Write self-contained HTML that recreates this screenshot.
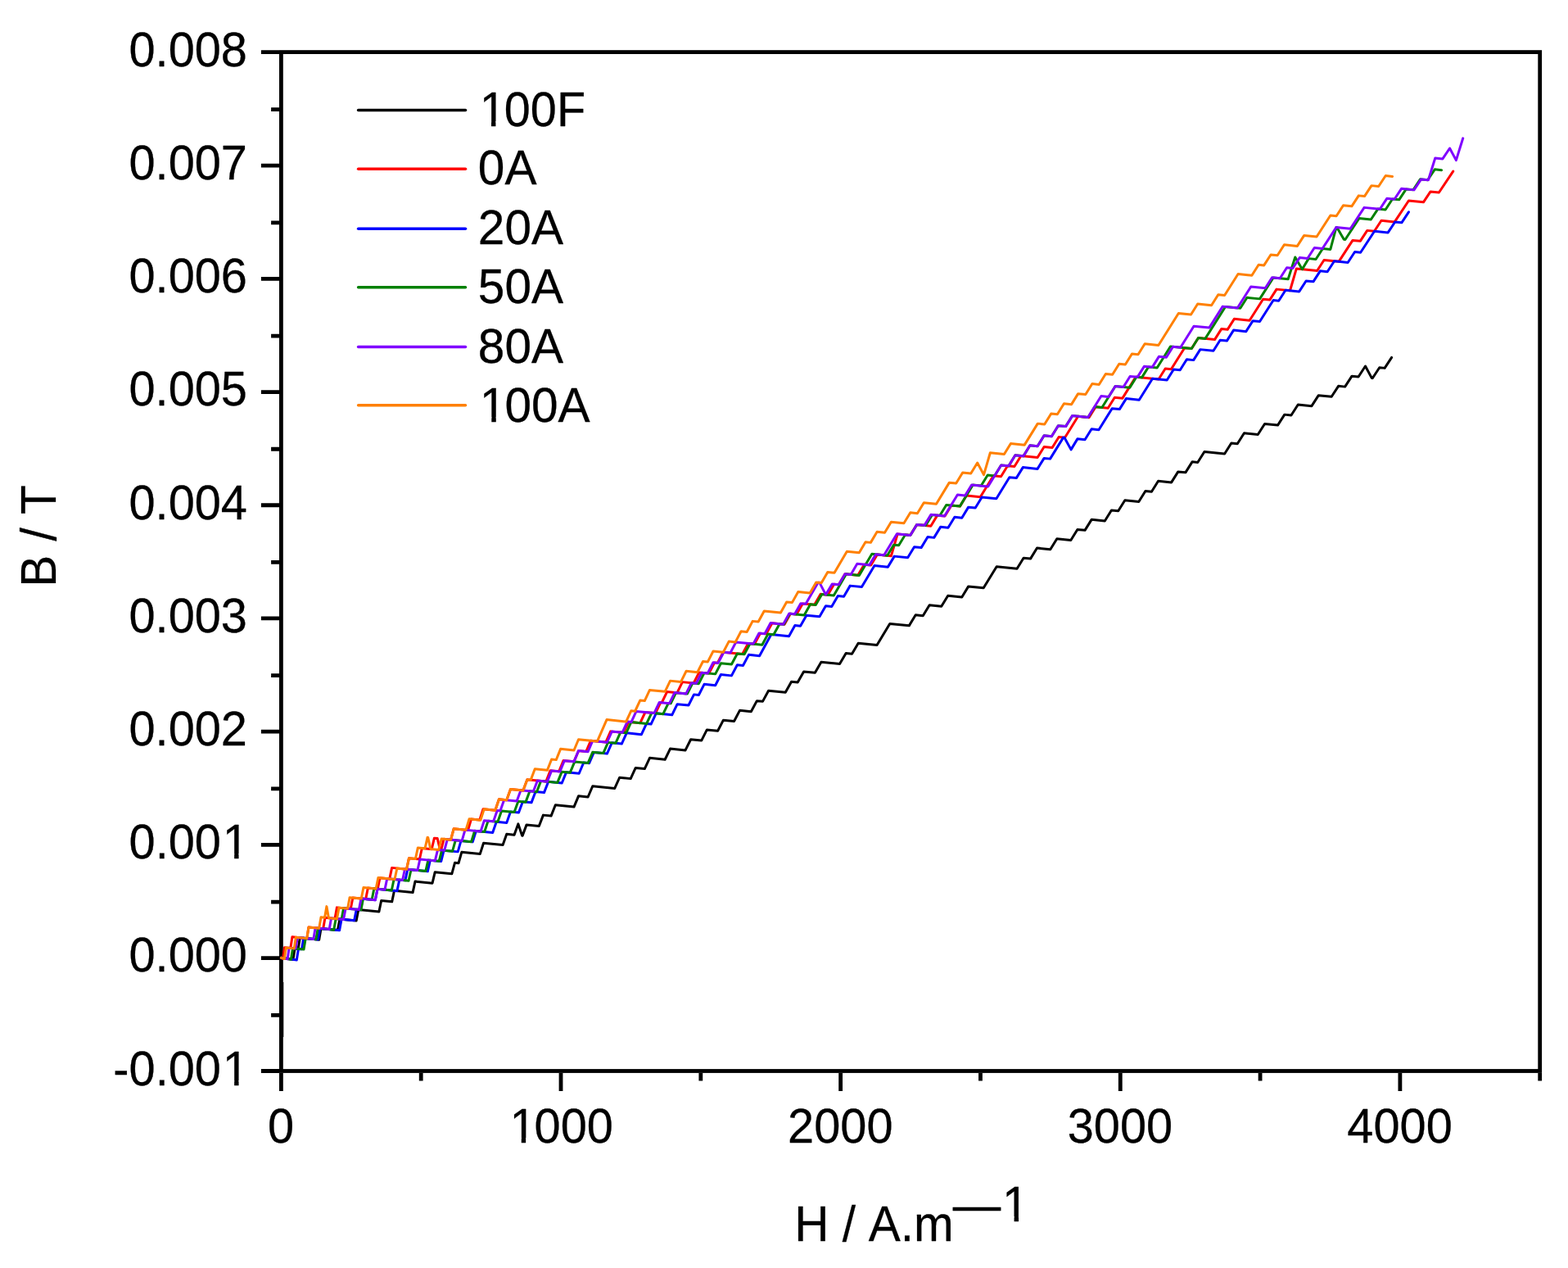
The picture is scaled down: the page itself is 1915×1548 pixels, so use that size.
<!DOCTYPE html>
<html lang="en"><head><meta charset="utf-8"><title>B / T vs H / A.m&#8212;1</title>
<style>html,body{margin:0;padding:0;background:#fff}body{width:1915px;height:1548px;overflow:hidden}svg{display:block}text{font-family:"Liberation Sans", sans-serif;fill:#000;stroke:#000;stroke-width:0.3px;stroke-linejoin:round;font-kerning:none}</style>
</head><body>
<svg width="1915" height="1548" viewBox="0 0 1915 1548">
<rect x="0" y="0" width="1915" height="1548" fill="#ffffff"/>
<g stroke="#000" stroke-width="4.8" fill="none" stroke-linecap="butt">
<rect x="343.4" y="63.6" width="1537.3" height="1243.9"/>
<path d="M318.9 63.6 H341 M331.1 133.61 H341 M318.9 202.11 H341 M331.1 271.82 H341 M318.9 340.32 H341 M331.1 410.03 H341 M318.9 478.53 H341 M331.1 548.24 H341 M318.9 616.74 H341 M331.1 686.45 H341 M318.9 754.96 H341 M331.1 824.66 H341 M318.9 893.17 H341 M331.1 962.87 H341 M318.9 1031.38 H341 M331.1 1101.08 H341 M318.9 1169.59 H341 M331.1 1239.29 H341 M318.9 1307.5 H341 M343.4 1309.9 V1332 M514.21 1309.9 V1319.4 M685.02 1309.9 V1332 M855.83 1309.9 V1319.4 M1026.64 1309.9 V1332 M1197.46 1309.9 V1319.4 M1368.27 1309.9 V1332 M1539.08 1309.9 V1319.4 M1709.89 1309.9 V1332 M1880.7 1309.9 V1319.4"/>
</g>
<g fill="none" stroke-width="3" stroke-linejoin="round" stroke-linecap="round">
<path d="M344.6 1199 L344.6 1266" stroke="#000" stroke-width="3.4" stroke-linecap="butt"/>
<path d="M343.4 1169.3 L357.95 1171.57 L360.07 1157.96 L364.18 1158.38 L366.33 1144.78 L389.7 1147.14 L392.02 1133.55 L412.43 1135.61 L414.9 1122.04 L435.15 1124.09 L437.77 1110.53 L462.89 1113.07 L465.66 1099.53 L478.7 1100.85 L481.54 1087.31 L504.07 1089.59 L507.02 1076.07 L528.04 1078.19 L531.25 1064.69 L551.81 1066.77 L555.48 1053.32 L560.01 1053.78 L563.83 1040.34 L586.25 1042.61 L590.57 1029.22 L614.11 1031.6 L618.8 1018.26 L628.07 1019.19 L632.9 1005.86 L637.6 1020.15 L638.15 1020.21 L643.08 1006.89 L658.31 1008.43 L663.45 995.12 L673.05 996.09 L678.33 982.81 L700.98 985.1 L706.53 971.84 L718.09 973 L723.76 959.76 L750.74 962.48 L756.66 949.26 L770.18 950.62 L776.24 937.42 L787.29 938.53 L793.47 925.34 L812.17 927.23 L818.54 914.05 L837.05 915.92 L843.6 902.76 L856.69 904.08 L863.37 890.94 L876.62 892.28 L883.42 879.14 L896.55 880.47 L903.47 867.35 L917.31 868.75 L924.36 855.64 L931.43 856.35 L938.56 843.25 L959.25 845.34 L966.55 832.26 L974.2 833.03 L981.59 819.96 L995.39 821.35 L1002.9 808.29 L1025.53 810.57 L1033.16 797.53 L1040.51 798.27 L1048.2 785.22 L1071.04 787.53 L1086.74 761.48 L1110.31 763.86 L1118.22 750.84 L1127.22 751.75 L1135.14 738.73 L1149.76 740.2 L1157.7 727.18 L1174.75 728.91 L1182.72 715.89 L1201.2 717.76 L1217.18 691.73 L1242.07 694.25 L1250.08 681.23 L1258.5 682.09 L1266.53 669.08 L1282.77 670.72 L1290.81 657.71 L1307.81 659.43 L1315.87 646.42 L1325.03 647.34 L1333.11 634.34 L1349.3 635.98 L1357.39 622.97 L1365.73 623.82 L1373.84 610.81 L1390.78 612.53 L1398.9 599.53 L1406.43 600.29 L1414.57 587.29 L1430.64 588.91 L1438.8 575.92 L1447.86 576.83 L1456.03 563.84 L1462.74 564.51 L1470.91 551.52 L1495.61 554.01 L1503.81 541.02 L1511.25 541.77 L1519.48 528.78 L1536.27 530.48 L1544.54 517.5 L1560.51 519.11 L1568.83 506.13 L1576.93 506.95 L1585.27 493.97 L1601.96 495.65 L1610.34 482.68 L1626.2 484.28 L1634.62 471.31 L1642.62 472.12 L1651.07 459.15 L1659.04 459.96 L1667.52 447 L1675.35 461.61 L1676.24 461.7 L1684.75 448.74 L1691.1 449.38 L1699.63 436.42" stroke="#000000"/>
<path d="M343.4 1169.3 L345.5 1170.31 L347.53 1156.7 L354.84 1157.44 L356.93 1143.83 L374.76 1145.63 L376.98 1132.03 L394.68 1133.82 L397.04 1120.24 L409 1121.45 L411.45 1107.87 L428.3 1109.57 L430.87 1096.01 L446.67 1097.61 L449.37 1084.06 L461.23 1085.26 L463.99 1071.72 L475.79 1072.91 L478.61 1059.38 L496.59 1061.19 L499.5 1047.67 L512.39 1048.97 L515.37 1035.45 L527.22 1036.65 L530.41 1023.15 L534.19 1023.53 L537.51 1037.69 L538.7 1037.8 L542.11 1024.33 L550.58 1025.19 L554.22 1011.73 L571.49 1013.48 L575.53 1000.07 L585.74 1001.1 L590.05 987.71 L604.81 989.2 L609.4 975.85 L618.76 976.79 L623.5 963.45 L638.93 965.01 L643.86 951.69 L666.84 954.01 L672.06 940.71 L682.66 941.79 L688.04 928.51 L700.98 929.82 L706.53 916.56 L715.75 917.49 L721.41 904.24 L739.86 906.1 L745.69 892.87 L761.63 894.48 L767.62 881.27 L781.84 882.7 L787.99 869.5 L800.51 870.77 L806.79 857.58 L808.28 857.73 L814.62 844.55 L826.94 845.8 L833.42 832.63 L847.16 834.02 L853.79 820.87 L865.85 822.09 L872.58 808.95 L876.33 809.33 L883.13 796.19 L906.7 798.57 L913.68 785.46 L921.49 786.25 L928.56 773.14 L935.82 773.87 L942.98 760.78 L958.09 762.3 L965.38 749.22 L972.88 749.98 L980.26 736.9 L994.68 738.36 L1002.19 725.3 L1011.07 726.19 L1018.64 713.14 L1024.33 713.71 L1031.96 700.66 L1047.74 702.26 L1055.46 689.22 L1063.65 690.05 L1071.44 677.01 L1088.36 678.72 L1096.19 651.87 L1111.77 653.45 L1119.69 640.42 L1136.82 642.16 L1144.75 629.14 L1154.04 630.07 L1161.98 617.06 L1172.41 618.11 L1180.37 605.09 L1197.29 606.8 L1213.26 580.78 L1222.5 581.71 L1230.5 568.7 L1238.93 569.55 L1246.95 556.54 L1267.11 558.57 L1275.14 545.57 L1285.11 546.57 L1293.16 533.57 L1300.53 534.31 L1316.66 508.3 L1330.04 509.65 L1338.12 496.65 L1353.21 498.17 L1361.31 485.17 L1370.92 486.14 L1387.15 460.14 L1415.04 462.96 L1423.19 449.96 L1430.36 450.68 L1446.68 424.69 L1455.33 425.56 L1463.5 412.57 L1483.5 414.59 L1491.7 401.6 L1499.15 402.35 L1507.36 389.36 L1526.07 391.25 L1542.61 365.28 L1550.76 366.1 L1559.06 353.12 L1575.51 354.78 L1583.34 327.93 L1608.63 330.49 L1617.02 317.52 L1635.1 319.34 L1652.01 293.41 L1661.28 294.35 L1669.77 281.38 L1678.49 282.26 L1687 269.3 L1703.28 270.95 L1720.42 245.04 L1738.44 246.86 L1747.05 233.91 L1757.41 234.96 L1774.73 209.06" stroke="#ff0000"/>
<path d="M343.4 1169.3 L362.31 1172.01 L364.45 1158.41 L368.54 1158.82 L370.72 1145.22 L388.46 1147.01 L390.77 1133.42 L414.6 1135.83 L417.09 1122.26 L432.66 1123.84 L435.26 1110.28 L440.45 1110.8 L443.1 1097.25 L458.32 1098.79 L461.07 1085.24 L484.94 1087.66 L487.8 1074.12 L494.92 1074.84 L497.83 1061.32 L522.3 1063.79 L525.4 1050.28 L538.7 1051.62 L542.11 1038.15 L559.19 1039.87 L563 1026.44 L577.23 1027.88 L581.38 1014.48 L601.7 1016.53 L606.27 1003.17 L618.76 1004.43 L623.5 991.09 L633.5 992.1 L638.38 978.77 L649.01 979.85 L654.05 966.54 L664.52 967.59 L669.71 954.3 L686.23 955.97 L691.64 942.69 L707.2 944.26 L712.79 931.01 L719.64 931.7 L725.33 918.45 L741.41 920.08 L747.26 906.85 L759.3 908.07 L765.27 894.85 L783.4 896.68 L789.56 883.48 L795.06 884.04 L801.31 870.85 L820.72 872.81 L827.15 859.64 L840.94 861.03 L847.52 847.88 L853.39 848.47 L860.05 835.32 L873.64 836.69 L880.42 823.56 L893.46 824.88 L900.37 811.75 L907.48 812.47 L914.46 799.36 L927.58 800.68 L941.88 774.49 L963.54 776.67 L970.86 763.59 L977.55 764.27 L984.96 751.2 L1000.93 752.81 L1008.46 739.75 L1015.75 740.49 L1023.34 727.43 L1030.57 728.16 L1038.22 715.12 L1052.45 716.55 L1067.99 690.48 L1084.4 692.14 L1092.27 679.12 L1108.64 680.77 L1116.55 667.75 L1125.08 668.61 L1133 655.59 L1140.73 656.37 L1148.67 643.35 L1157.95 644.29 L1165.9 631.27 L1174.75 632.17 L1182.72 619.15 L1191.19 620.01 L1199.16 606.99 L1216.85 608.78 L1232.85 582.75 L1241.28 583.61 L1249.3 570.6 L1267.11 572.39 L1275.14 559.39 L1282.54 560.13 L1298.64 534.12 L1299.99 534.26 L1308.04 548.89 L1315.87 535.86 L1325.03 536.78 L1333.11 523.78 L1341.99 524.68 L1358.17 498.67 L1367.3 499.59 L1375.4 486.59 L1391.26 488.19 L1407.52 462.2 L1425.22 463.98 L1433.37 450.99 L1441.24 451.78 L1449.4 438.79 L1457.67 439.62 L1465.85 426.63 L1481.94 428.25 L1490.13 415.26 L1498.37 416.09 L1506.58 403.1 L1521.83 404.64 L1530.08 391.65 L1538.56 392.51 L1555.14 366.55 L1561.71 367.21 L1570.03 354.23 L1586.73 355.92 L1595.09 342.94 L1603.94 343.83 L1612.32 330.86 L1621.14 331.75 L1629.56 318.78 L1646.16 320.46 L1654.62 307.49 L1661.65 308.2 L1678.64 282.28 L1695.17 283.95 L1703.71 270.99 L1711.85 271.81 L1720.42 258.86" stroke="#0000ff"/>
<path d="M343.4 1169.3 L355.46 1171.32 L357.56 1157.71 L371.03 1159.07 L373.22 1145.47 L385.97 1146.76 L388.26 1133.17 L407.76 1135.14 L410.2 1121.57 L417.09 1122.26 L419.6 1108.7 L440.86 1110.84 L443.52 1097.29 L454.16 1098.37 L456.89 1084.82 L478.28 1086.98 L481.12 1073.45 L499.08 1075.26 L502.01 1061.74 L519.84 1063.54 L522.89 1050.03 L536.24 1051.38 L539.6 1037.9 L552.63 1039.21 L556.31 1025.76 L575.59 1027.71 L579.71 1014.31 L591.69 1015.52 L596.12 1002.14 L607.91 1003.34 L612.53 989.98 L628.07 991.55 L632.9 978.22 L642.03 979.14 L647 965.82 L655.52 966.68 L660.63 953.38 L680.8 955.42 L686.16 942.14 L696.31 943.16 L701.83 929.9 L718.09 931.54 L723.76 918.3 L736.75 919.61 L742.56 906.38 L751.83 907.31 L757.75 894.09 L764.74 894.8 L770.76 881.58 L789.62 883.49 L795.82 870.29 L809.84 871.71 L816.19 858.53 L819.17 858.83 L825.59 845.66 L839.38 847.05 L845.95 833.9 L853.39 834.65 L860.05 821.5 L873.64 822.87 L880.42 809.74 L893.46 811.06 L900.37 797.93 L909.04 798.81 L916.03 785.7 L930.84 787.19 L937.96 774.09 L944.85 774.79 L952.06 761.69 L957.31 762.22 L964.6 749.14 L982.22 750.92 L989.66 737.85 L996.24 738.52 L1003.76 725.46 L1018.26 726.92 L1033.52 700.82 L1049.34 702.42 L1064.86 676.35 L1083.62 678.24 L1091.49 665.22 L1097.68 665.84 L1105.59 652.82 L1111.77 653.45 L1119.69 640.42 L1130.56 641.52 L1138.49 628.5 L1147.78 629.44 L1155.72 616.42 L1172.27 618.1 L1188.2 592.06 L1198.23 593.08 L1206.21 580.06 L1214.67 580.92 L1222.66 567.91 L1231.89 568.84 L1239.9 555.83 L1249.89 556.84 L1257.91 543.83 L1267.11 544.75 L1275.14 531.75 L1284.33 532.67 L1292.38 519.67 L1301.55 520.59 L1309.61 507.59 L1328.95 509.54 L1337.02 496.54 L1345.9 497.43 L1362.09 471.43 L1379.82 473.22 L1387.94 460.22 L1394.54 460.88 L1402.66 447.89 L1413.16 448.95 L1429.45 422.95 L1455.33 425.56 L1463.5 412.57 L1471.96 413.42 L1496.55 374.45 L1514.79 376.29 L1523.03 363.3 L1538.56 364.87 L1555.14 338.91 L1573.16 340.73 L1581.78 313.96 L1590.39 328.65 L1598.22 315.62 L1607.06 316.51 L1615.46 303.54 L1624.86 304.49 L1631.91 277.56 L1632.87 277.66 L1641.31 292.33 L1642.91 292.49 L1659.84 266.56 L1674.32 268.02 L1682.82 255.06 L1692.04 255.99 L1700.57 243.03 L1708.72 243.86 L1717.28 230.9 L1725.93 231.78 L1734.52 218.82 L1743.65 219.75 L1752.27 206.8 L1760.6 207.64" stroke="#008000"/>
<path d="M343.4 1169.3 L351.11 1170.88 L353.17 1157.27 L361.07 1158.06 L363.2 1144.46 L382.85 1146.44 L385.13 1132.85 L402.15 1134.57 L404.56 1121 L419.58 1122.51 L422.1 1108.95 L438.37 1110.59 L441.01 1097.04 L458.32 1098.79 L461.07 1085.24 L469.96 1086.14 L472.76 1072.61 L491.59 1074.51 L494.49 1060.98 L509.9 1062.54 L512.87 1049.02 L531.32 1050.88 L534.59 1037.39 L542.79 1038.22 L546.29 1024.75 L564.11 1026.55 L568.01 1013.13 L587.07 1015.05 L591.4 1001.67 L602.63 1002.8 L607.21 989.44 L611.01 989.83 L615.67 976.48 L631.17 978.04 L636.03 964.72 L651.33 966.26 L656.4 952.95 L668.39 954.16 L673.63 940.87 L683.9 941.91 L689.3 928.64 L700.98 929.82 L706.53 916.56 L718.09 917.72 L723.76 904.48 L741.41 906.26 L747.26 893.03 L760.07 894.32 L766.06 881.11 L770.96 881.6 L777.02 868.4 L798.95 870.61 L805.22 857.42 L817.61 858.68 L824.02 845.5 L837.83 846.9 L844.39 833.74 L850.28 834.33 L856.92 821.19 L864.29 821.93 L871.02 808.79 L877.11 809.41 L883.92 796.27 L891.91 797.08 L898.8 783.96 L919.94 786.09 L927 772.98 L933.95 773.69 L941.1 760.59 L956.53 762.15 L963.81 749.06 L970.54 749.74 L977.91 736.67 L984.07 737.29 L999.06 711.16 L1000.93 711.35 L1008.46 725.93 L1016.29 712.9 L1024.33 713.71 L1031.96 700.66 L1039.15 701.39 L1046.84 688.35 L1061.78 689.86 L1069.56 676.82 L1079.64 677.84 L1095.4 651.79 L1111.77 653.45 L1119.69 640.42 L1128.99 641.36 L1136.92 628.35 L1153.5 630.02 L1169.4 603.99 L1178.67 604.92 L1186.63 591.91 L1206.68 593.93 L1222.66 567.91 L1231.89 568.84 L1239.9 555.83 L1249.89 556.84 L1257.91 543.83 L1267.11 544.75 L1275.14 531.75 L1284.33 532.67 L1292.38 519.67 L1301.55 520.59 L1309.61 507.59 L1328.69 509.51 L1344.86 483.51 L1353.99 484.43 L1362.09 471.43 L1371.99 472.43 L1380.1 459.43 L1389.21 460.35 L1397.34 447.35 L1407.22 448.35 L1415.35 435.35 L1424.44 436.26 L1432.58 423.27 L1441.68 424.19 L1458.02 398.2 L1476.87 400.1 L1493.26 374.12 L1511.24 375.93 L1527.73 349.96 L1545.29 351.73 L1553.58 338.75 L1563.27 339.73 L1571.59 326.75 L1578.91 327.49 L1587.26 314.51 L1596.9 315.48 L1605.27 302.51 L1615.07 303.5 L1631.91 277.56 L1649.16 279.3 L1666.11 253.37 L1685.26 255.31 L1693.79 242.35 L1702.99 243.28 L1711.54 230.32 L1726.97 231.88 L1735.56 218.93 L1744.44 219.82 L1752.79 193.03 L1761.9 193.95 L1770.55 181 L1778.38 195.61 L1786.74 168.82" stroke="#8000ff"/>
<path d="M343.4 1169.3 L347.37 1170.5 L349.41 1156.89 L359.2 1157.88 L361.32 1144.27 L374.76 1145.63 L376.98 1132.03 L389.7 1133.32 L392.02 1119.73 L396.55 1120.19 L398.92 1106.61 L401.42 1120.68 L411.49 1121.7 L413.96 1108.13 L424.56 1109.2 L427.11 1095.64 L441.28 1097.07 L443.94 1083.51 L459.15 1085.05 L461.9 1071.51 L482.03 1073.54 L484.88 1060.01 L496.59 1061.19 L499.5 1047.67 L507.4 1048.46 L510.36 1034.94 L519.02 1035.82 L522.06 1022.3 L522.71 1022.37 L525.82 1036.5 L535.83 1037.51 L539.19 1024.03 L550.58 1025.19 L554.22 1011.73 L569.03 1013.23 L573.02 999.81 L586.88 1001.21 L591.21 987.83 L604.81 989.2 L609.4 975.85 L618.76 976.79 L623.5 963.45 L638.93 965.01 L643.86 951.69 L648.23 952.13 L653.26 938.82 L668.39 940.34 L673.63 927.05 L679.25 927.62 L684.6 914.34 L700.98 916 L706.53 902.74 L729.39 905.05 L740.99 878.58 L764.74 880.98 L770.76 867.76 L775.62 868.25 L781.72 855.05 L787.29 855.61 L793.47 842.42 L812.17 844.31 L818.54 831.13 L831.61 832.45 L838.12 819.29 L851.83 820.67 L858.49 807.52 L864.29 808.11 L871.02 794.97 L883.34 796.21 L890.18 783.09 L898.13 783.89 L905.07 770.77 L912.15 771.48 L919.16 758.37 L926.16 759.08 L933.26 745.98 L953.41 748.01 L960.68 734.93 L967.43 735.61 L974.78 722.53 L989.23 723.99 L996.71 710.92 L1003.27 711.59 L1010.81 698.53 L1019.03 699.36 L1034.31 673.26 L1049.3 674.78 L1057.02 661.74 L1063.34 662.37 L1071.12 649.34 L1080.5 650.29 L1088.36 637.26 L1103.94 638.84 L1111.85 625.81 L1120.38 626.68 L1128.3 613.66 L1143.48 615.19 L1159.37 589.15 L1167.71 590 L1175.67 576.98 L1185.71 577.99 L1193.68 564.98 L1201.51 579.59 L1209.35 552.74 L1226.41 554.46 L1234.41 541.45 L1251.26 543.15 L1267.31 517.13 L1275.72 517.98 L1283.76 504.98 L1291.38 505.75 L1299.43 492.74 L1308.6 493.66 L1316.66 480.66 L1325.81 481.58 L1333.89 468.58 L1342.25 469.42 L1350.34 456.42 L1358.69 457.26 L1366.79 444.26 L1374.34 445.03 L1382.45 432.02 L1390 432.79 L1398.12 419.79 L1414.86 421.48 L1439.32 382.49 L1454.54 384.03 L1462.72 371.03 L1479.59 372.74 L1487.78 359.74 L1495.62 360.53 L1512.06 334.55 L1528.87 336.25 L1537.13 323.27 L1543.72 323.93 L1552.01 310.95 L1560.15 311.77 L1568.46 298.79 L1584.39 300.4 L1592.74 287.42 L1608.04 288.97 L1624.86 263.03 L1632.09 263.76 L1640.52 250.79 L1650.86 251.83 L1659.32 238.87 L1666.5 239.59 L1674.99 226.63 L1683.7 227.51 L1692.22 214.55 L1700.6 215.4" stroke="#ff8000"/>
</g>
<g font-size="59">
<text transform="translate(157.52 80.7) scale(0.9786 1)">0.008</text>
<text transform="translate(157.52 218.91) scale(0.9786 1)">0.007</text>
<text transform="translate(157.52 357.12) scale(0.9786 1)">0.006</text>
<text transform="translate(157.52 495.33) scale(0.9786 1)">0.005</text>
<text transform="translate(157.52 633.54) scale(0.9786 1)">0.004</text>
<text transform="translate(157.52 771.76) scale(0.9786 1)">0.003</text>
<text transform="translate(157.52 909.97) scale(0.9786 1)">0.002</text>
<text transform="translate(157.52 1048.18) scale(0.9786 1)" dx="0 0 0 0 1.93">0.001</text>
<text transform="translate(157.52 1186.39) scale(0.9786 1)">0.000</text>
<text transform="translate(138.29 1324.6) scale(0.9786 1)" dx="0 0 0 0 0 1.93">-0.001</text>
<text transform="translate(327.04 1394.9) scale(0.9786 1)">0</text>
<text transform="translate(620.5 1394.9) scale(0.9786 1)" dx="1.93 -1.93 0 0">1000</text>
<text transform="translate(962.12 1394.9) scale(0.9786 1)">2000</text>
<text transform="translate(1303.75 1394.9) scale(0.9786 1)">3000</text>
<text transform="translate(1645.37 1394.9) scale(0.9786 1)">4000</text>
</g>
<g fill="none" stroke-width="3.5" stroke-linecap="round">
<path d="M437.6 134.6 H568.5" stroke="#000000"/>
<path d="M437.6 206.2 H568.5" stroke="#ff0000"/>
<path d="M437.6 279.3 H568.5" stroke="#0000ff"/>
<path d="M437.6 350.8 H568.5" stroke="#008000"/>
<path d="M437.6 423.6 H568.5" stroke="#8000ff"/>
<path d="M437.6 494.8 H568.5" stroke="#ff8000"/>
</g>
<g font-size="59.5">
<text transform="translate(583.8 154.4) scale(0.968 1)" dx="1.95 -1.95 0 0">100F</text>
<text transform="translate(583.8 225) scale(0.985 1)">0A</text>
<text transform="translate(583.8 298.3) scale(0.985 1)">20A</text>
<text transform="translate(583.8 369.9) scale(0.985 1)">50A</text>
<text transform="translate(583.8 442.5) scale(0.985 1)">80A</text>
<text transform="translate(583.8 514.5) scale(0.985 1)" dx="1.95 -1.95 0 0">100A</text>
</g>
<g font-size="60.9">
<text transform="scale(0.961 1)" y="1515.5"><tspan x="1009.72">H</tspan> <tspan x="1070.57">/</tspan> <tspan x="1103.87">A.m</tspan><tspan x="1210.98" y="1492.5">&#8212;</tspan><tspan x="1273.67" y="1491.5">1</tspan></text>
<text transform="translate(67.9 716.66) rotate(-90) scale(0.961 1)"><tspan x="0">B</tspan> <tspan x="58.36">/</tspan> <tspan x="92.26">T</tspan></text>
</g>
<g fill="#ffffff" stroke="none">
<rect x="275" y="1042" width="11.15" height="7"/>
<rect x="291.55" y="1042" width="10.45" height="7"/>
<rect x="275" y="1319" width="11.15" height="7"/>
<rect x="291.55" y="1319" width="10.45" height="7"/>
<rect x="625" y="1389" width="11.76" height="7"/>
<rect x="642.16" y="1389" width="10.84" height="7"/>
<rect x="589" y="148" width="11.02" height="8"/>
<rect x="605.41" y="148" width="10.59" height="8"/>
<rect x="589" y="509" width="11.31" height="7"/>
<rect x="605.78" y="509" width="11.22" height="7"/>
<rect x="1227" y="1485" width="11.57" height="8"/>
<rect x="1244.04" y="1485" width="10.96" height="8"/>
</g>
</svg>
</body></html>
